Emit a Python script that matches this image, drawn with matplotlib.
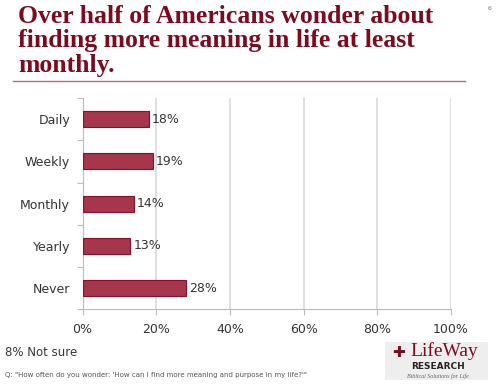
import matplotlib.pyplot as plt
import numpy as np
from matplotlib.patches import Rectangle

# --- Data ---
categories = ["Daily", "Weekly", "Monthly", "Yearly", "Never"]
values = [18, 19, 14, 13, 28]
xticks = [0, 20, 40, 60, 80, 100]
xtick_labels = ["0%", "20%", "40%", "60%", "80%", "100%"]

title = ("Over half of Americans wonder about\n"
         "finding more meaning in life at least\n"
         "monthly.")
note = "8% Not sure"
question = "Q: \"How often do you wonder: 'How can I find more meaning and purpose in my life?'\""

dark_red = "#7d0a1f"
bar_color = "#a5364b"
bar_edge = "#8c0f26"
grid_color = "#d9d9d9"
text_color = "#333333"

fig = plt.figure(figsize=(5.0, 3.85), dpi=100)
fig.patch.set_facecolor("white")

# --- Title ---
fig.text(0.036, 0.987, title, family="Liberation Serif", weight="bold",
         fontsize=18.5, color=dark_red, va="top", ha="left", linespacing=1.08)
fig.add_artist(plt.Line2D([0.026, 0.93], [0.789, 0.789], color="#c06878",
                          lw=1.0, transform=fig.transFigure))
fig.text(0.98, 0.985, "6", fontsize=4.5, color="#777777", ha="center", va="top")

# --- Bars ---
ax = fig.add_axes([0.165, 0.197, 0.737, 0.548])
y = np.arange(len(categories))
ax.barh(y, values, height=0.38, color=bar_color, edgecolor=bar_edge, lw=0.8, zorder=3)
for yi, v in zip(y, values):
    ax.text(v + 0.8, yi, f"{v}%", va="center", ha="left", fontsize=9, color=text_color)

ax.set_xlim(0, 100)
ax.set_ylim(len(categories) - 0.5, -0.5)
ax.set_xticks(xticks)
ax.set_xticklabels(xtick_labels, fontsize=9, color=text_color)
ax.set_yticks(y)
ax.set_yticklabels(categories, fontsize=9, color=text_color)
ax.set_yticks(np.arange(-0.5, len(categories), 1.0), minor=True)
ax.tick_params(axis="y", which="major", length=0, pad=9)
ax.tick_params(axis="y", which="minor", length=4, color="#bbbbbb", width=0.8)
ax.tick_params(axis="x", length=4, color="#bbbbbb", width=0.8, pad=6)
ax.grid(axis="x", color=grid_color, lw=1.2, zorder=0)
for s in ["top", "right"]:
    ax.spines[s].set_visible(False)
for s in ["left", "bottom"]:
    ax.spines[s].set_color("#bbbbbb")
    ax.spines[s].set_linewidth(0.8)

# --- Footer ---
fig.text(0.01, 0.085, note, fontsize=8.5, color=text_color, ha="left", va="center")
fig.text(0.01, 0.027, question, fontsize=5, color="#555555", ha="left", va="center")

# --- Logo (text approximation) ---
fig.add_artist(Rectangle((0.77, 0.013), 0.205, 0.098, transform=fig.transFigure,
                         facecolor="#eeeeee", edgecolor="none"))
fig.text(0.785, 0.085, "\u271a", fontsize=11, color=dark_red, ha="left", va="center")
fig.text(0.82, 0.088, "LifeWay", family="Liberation Serif", fontsize=14,
         color=dark_red, ha="left", va="center")
fig.text(0.875, 0.048, "RESEARCH", fontsize=6.5, weight="bold", color="#222222",
         ha="center", va="center")
fig.text(0.875, 0.024, "Biblical Solutions for Life", family="Liberation Serif",
         style="italic", fontsize=4.3, color="#666666", ha="center", va="center")

fig.savefig("out.png", dpi=100)
